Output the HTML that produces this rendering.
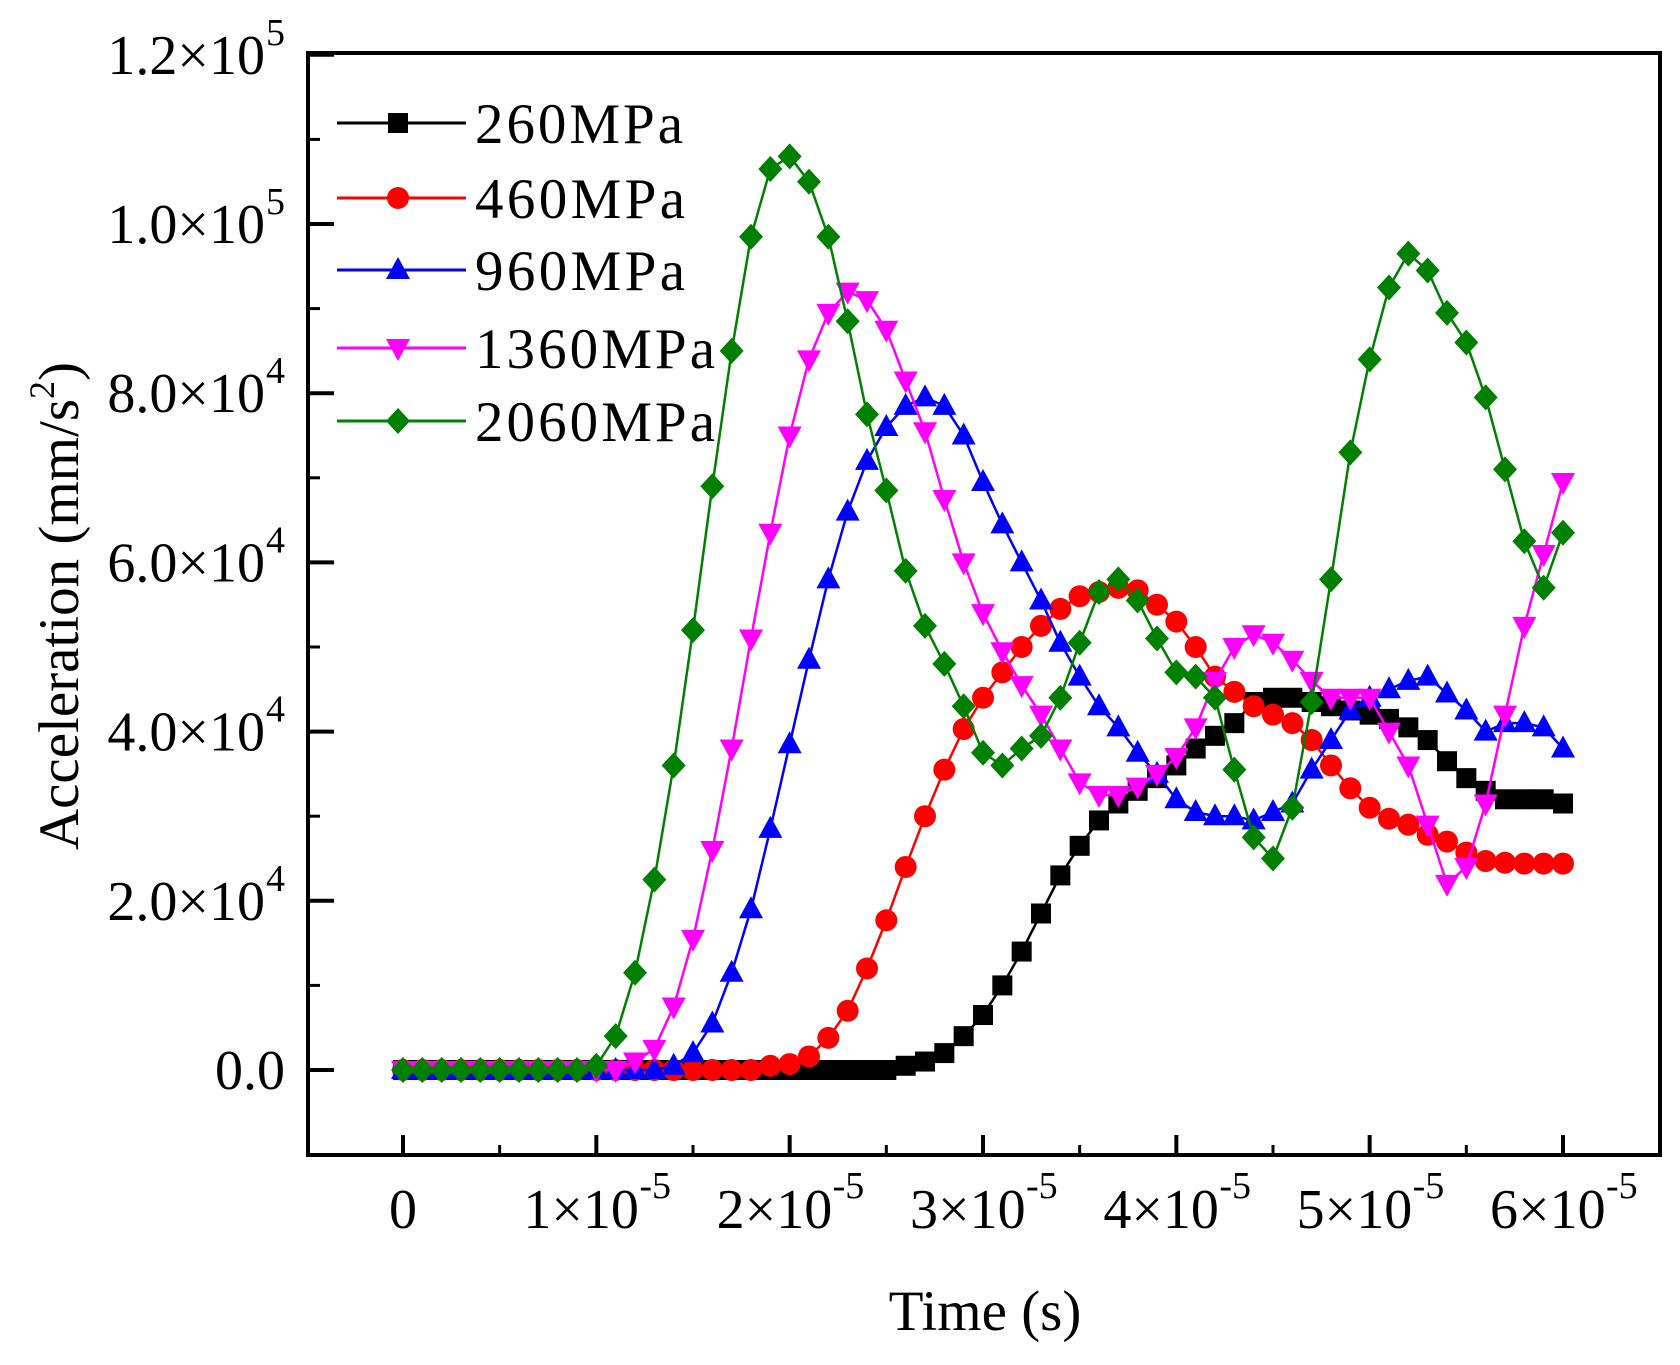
<!DOCTYPE html>
<html><head><meta charset="utf-8"><style>
html,body{margin:0;padding:0;background:#fff;}
svg{display:block;font-family:"Liberation Serif",serif;}
</style></head><body>
<svg id="chart" width="1680" height="1365" viewBox="0 0 1680 1365" xmlns="http://www.w3.org/2000/svg">
<g id="axes"></g>
<g id="series"></g>
<g id="legend"></g>
<text x="985" y="1330" font-size="57" text-anchor="middle">Time (s)</text>
<text transform="translate(78,606) rotate(-90)" font-size="57" text-anchor="middle">Acceleration (mm/s<tspan dy="-24" font-size="36">2</tspan><tspan dy="24">)</tspan></text>
</svg>
<script>
const seriesNames = ["260MPa","460MPa","960MPa","1360MPa","2060MPa"];
const seriesColors = ["#000000","#ff0000","#0000ff","#ff00ff","#008000"];
const seriesMarkers = ["square","circle","triangle","invtriangle","diamond"];
const xTicks = [0,1,2,3,4,5,6];
const yTicks = [0,2,4,6,8,10,12];
const yTickLabels = ["0.0","2.0x10^4","4.0x10^4","6.0x10^4","8.0x10^4","1.0x10^5","1.2x10^5"];
// values in units of 1e4 mm/s^2, time t = 0..60 (x1e-6 s)
const s260 = [0,0,0,0,0,0,0,0,0,0,0,0,0,0,0,0,0,0,0,0,0,0,0,0,0,0,0.05,0.1,0.2,0.4,0.65,1.0,1.4,1.85,2.3,2.65,2.95,3.15,3.3,3.45,3.6,3.8,3.95,4.1,4.35,4.4,4.4,4.35,4.3,4.25,4.2,4.15,4.05,3.9,3.65,3.45,3.3,3.2,3.2,3.2,3.15];
const s460 = [0,0,0,0,0,0,0,0,0,0,0,0,0,0,0,0,0,0,0,0.05,0.07,0.16,0.38,0.7,1.2,1.77,2.4,3.0,3.55,4.03,4.4,4.7,5.0,5.25,5.45,5.6,5.65,5.7,5.67,5.5,5.3,5.0,4.65,4.47,4.3,4.2,4.1,3.9,3.6,3.33,3.1,2.97,2.9,2.78,2.7,2.57,2.47,2.45,2.44,2.44,2.44];
const s960 = [0,0,0,0,0,0,0,0,0,0,0,0,0,0,0.05,0.2,0.55,1.15,1.9,2.85,3.85,4.85,5.8,6.6,7.2,7.6,7.85,7.95,7.85,7.5,6.95,6.45,6.0,5.55,5.05,4.65,4.3,4.05,3.75,3.5,3.2,3.05,3.0,3.0,2.95,3.05,3.15,3.55,3.9,4.25,4.4,4.5,4.6,4.65,4.45,4.25,4.0,4.1,4.1,4.05,3.8];
const s1360 = [0,0,0,0,0,0,0,0,0,0,0,0,0.1,0.25,0.75,1.55,2.6,3.8,5.1,6.35,7.5,8.4,8.95,9.2,9.1,8.75,8.15,7.55,6.75,6.0,5.4,4.95,4.55,4.2,3.8,3.4,3.25,3.25,3.35,3.5,3.7,4.05,4.6,5.0,5.15,5.05,4.85,4.6,4.4,4.4,4.4,4.0,3.6,2.9,2.2,2.4,3.15,4.2,5.25,6.1,6.95];
const s2060 = [0,0,0,0,0,0,0,0,0,0,0.05,0.4,1.15,2.25,3.6,5.2,6.9,8.5,9.85,10.65,10.8,10.5,9.85,8.85,7.75,6.85,5.9,5.25,4.8,4.3,3.75,3.6,3.8,3.95,4.4,5.05,5.65,5.8,5.55,5.1,4.7,4.65,4.4,3.55,2.75,2.5,3.1,4.35,5.8,7.3,8.4,9.25,9.65,9.45,8.95,8.6,7.95,7.1,6.25,5.7,6.35];
const allSeries = [s260,s460,s960,s1360,s2060];

const NS="http://www.w3.org/2000/svg";
function X(t){ return 403 + t*(1563-403)/60; }      // t in 1e-6 s
function Y(v){ return 1070 - v*(1070-224)/10; }     // v in 1e4
function mk(tag,attrs,parent){const e=document.createElementNS(NS,tag);for(const k in attrs)e.setAttribute(k,attrs[k]);parent.appendChild(e);return e;}

const axes=document.getElementById('axes');
const frame=mk('rect',{x:308,y:53,width:1352,height:1102,fill:'none',stroke:'#000','stroke-width':4},axes);


for(let i=0;i<yTicks.length;i++){
  const v=yTicks[i];
  const tk=mk('line',{x1:308,x2:334,y1:Y(v),y2:Y(v),stroke:'#000','stroke-width':4},axes);
  
  
  if(i<yTicks.length-1){
    const mn=mk('line',{x1:308,x2:320,y1:Y(v+1),y2:Y(v+1),stroke:'#000','stroke-width':3},axes);
    
    
  }
  const parts=yTickLabels[i].split('^');
  const tx=mk('text',{x:parts.length>1?265:285,y:Y(v)+19,'font-size':56,'text-anchor':'end'},axes);
  
  
  tx.textContent=parts[0].replace('x','\u00d7');
  if(parts.length>1){
    const sp=mk('text',{x:266,y:Y(v)-10,'font-size':38},axes);
    
    
    sp.textContent=parts[1];
  }
}
const mnb=mk('line',{x1:308,x2:320,y1:Y(-1),y2:Y(-1),stroke:'#000','stroke-width':3},axes);


for(let i=0;i<xTicks.length;i++){
  const t=xTicks[i]*10;
  const tk=mk('line',{x1:X(t),x2:X(t),y1:1155,y2:1135,stroke:'#000','stroke-width':4},axes);
  
  
  if(i<xTicks.length-1){
    const mn=mk('line',{x1:X(t+5),x2:X(t+5),y1:1155,y2:1145,stroke:'#000','stroke-width':3},axes);
    
    
  }
  if(xTicks[i]===0){
    const g=mk('text',{x:X(t),y:1228,'font-size':56,'text-anchor':'middle'},axes);
    
    
    g.textContent='0';
  } else {
    const g=mk('text',{x:X(t)-73,y:1228,'font-size':56,'text-anchor':'start'},axes);
    
    
    g.textContent=xTicks[i]+'\u00d710';
    const sp=mk('text',{x:X(t)+43,y:1198,'font-size':38},axes);
    
    
    sp.textContent='-5';
  }
}

function marker(type,cx,cy,color,parent){
  let e;
  if(type==='square') e=mk('rect',{x:cx-10,y:cy-10,width:20,height:20,fill:color},parent);
  else if(type==='circle') e=mk('circle',{cx:cx,cy:cy,r:11,fill:color},parent);
  else if(type==='triangle') e=mk('polygon',{points:`${cx},${cy-13} ${cx-12},${cy+9} ${cx+12},${cy+9}`,fill:color},parent);
  else if(type==='invtriangle') e=mk('polygon',{points:`${cx},${cy+13} ${cx-12},${cy-9} ${cx+12},${cy-9}`,fill:color},parent);
  else e=mk('polygon',{points:`${cx},${cy-13} ${cx+12},${cy} ${cx},${cy+13} ${cx-12},${cy}`,fill:color},parent);
  return e;
}

const sg=document.getElementById('series');
for(let s=0;s<allSeries.length;s++){
  const g=mk('g',{},sg);
  
  
  const pts=allSeries[s].map((v,i)=>X(i)+','+Y(v)).join(' ');
  const pl=mk('polyline',{points:pts,fill:'none',stroke:seriesColors[s],'stroke-width':2.5},g);
  
  
  allSeries[s].forEach((v,i)=>{
    const m=marker(seriesMarkers[s],X(i),Y(v),seriesColors[s],g);
    
    
  });
}

const lg=document.getElementById('legend');
const legY=[123,198,270,348,421];
const legW=[208,210,210,240,240];
for(let s=0;s<seriesNames.length;s++){
  const g=mk('g',{},lg);
  
  
  mk('line',{x1:337,x2:466,y1:legY[s],y2:legY[s],stroke:seriesColors[s],'stroke-width':3},g);
  marker(seriesMarkers[s],398,legY[s],seriesColors[s],g);
  const t=mk('text',{x:475,y:legY[s]+20,'font-size':57,textLength:legW[s]},g);
  
  
  t.textContent=seriesNames[s];
}
</script>
</body></html>
